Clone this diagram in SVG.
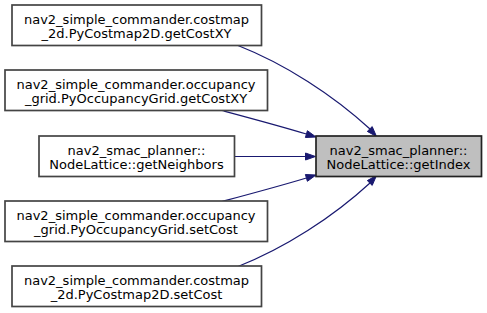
<svg xmlns="http://www.w3.org/2000/svg" width="487" height="313" viewBox="0 0 487 313">
<style>
.node rect{fill:#ffffff;stroke:#444444;stroke-width:1.7}
.node.target rect{fill:#bfbfbf;stroke:#222222}
.node text{font-family:"DejaVu Sans",sans-serif;font-size:13px;fill:#000000;text-anchor:middle}
.edges path{fill:none;stroke:#191970;stroke-width:1.2}
.edges polygon{fill:#191970;stroke:#191970;stroke-width:1}
</style>
<rect width="487" height="313" fill="#ffffff"/>
<g id="edges" class="edges">
<path d="M238,45.5 C285,64 333,95 370,129"/>
<polygon points="367.3,131.4 376.5,136.5 372.2,126.6"/>
<path d="M222,110.5 C250,118 280,126 306.4,134"/>
<polygon points="305.4,137.5 316,137 307.4,130.7"/>
<path d="M234.5,156.5 L305.5,156.5"/>
<polygon points="305.5,153 315.5,156.5 305.5,160"/>
<path d="M222,201.5 C250,194 280,186 306.4,178"/>
<polygon points="305.4,174.5 316,175 307.4,181.3"/>
<path d="M238,266.5 C285,248 333,217 370,183"/>
<polygon points="367.3,180.6 376.5,175.5 372.2,185.4"/>
</g>
<g id="node1" class="node">
<rect x="12" y="5" width="249.5" height="40.5"/>
<text x="136.5" y="24">nav2_simple_commander.costmap</text>
<text x="136.5" y="38">_2d.PyCostmap2D.getCostXY</text>
</g>
<g id="node2" class="node">
<rect x="5" y="70" width="262.5" height="40.5"/>
<text x="136" y="89">nav2_simple_commander.occupancy</text>
<text x="136" y="103">_grid.PyOccupancyGrid.getCostXY</text>
</g>
<g id="node3" class="node">
<rect x="39" y="136" width="195.5" height="40.5"/>
<text x="136.5" y="155">nav2_smac_planner::</text>
<text x="136.5" y="168.5">NodeLattice::getNeighbors</text>
</g>
<g id="node4" class="node">
<rect x="5" y="201" width="262.5" height="40.5"/>
<text x="136" y="220">nav2_simple_commander.occupancy</text>
<text x="136" y="234">_grid.PyOccupancyGrid.setCost</text>
</g>
<g id="node5" class="node">
<rect x="12" y="266" width="249.5" height="40.5"/>
<text x="136.5" y="285">nav2_simple_commander.costmap</text>
<text x="136.5" y="299">_2d.PyCostmap2D.setCost</text>
</g>
<g id="node0" class="node target">
<rect x="316" y="136" width="165.5" height="40.5"/>
<text x="398.5" y="155">nav2_smac_planner::</text>
<text x="398.5" y="168.5">NodeLattice::getIndex</text>
</g>
</svg>
